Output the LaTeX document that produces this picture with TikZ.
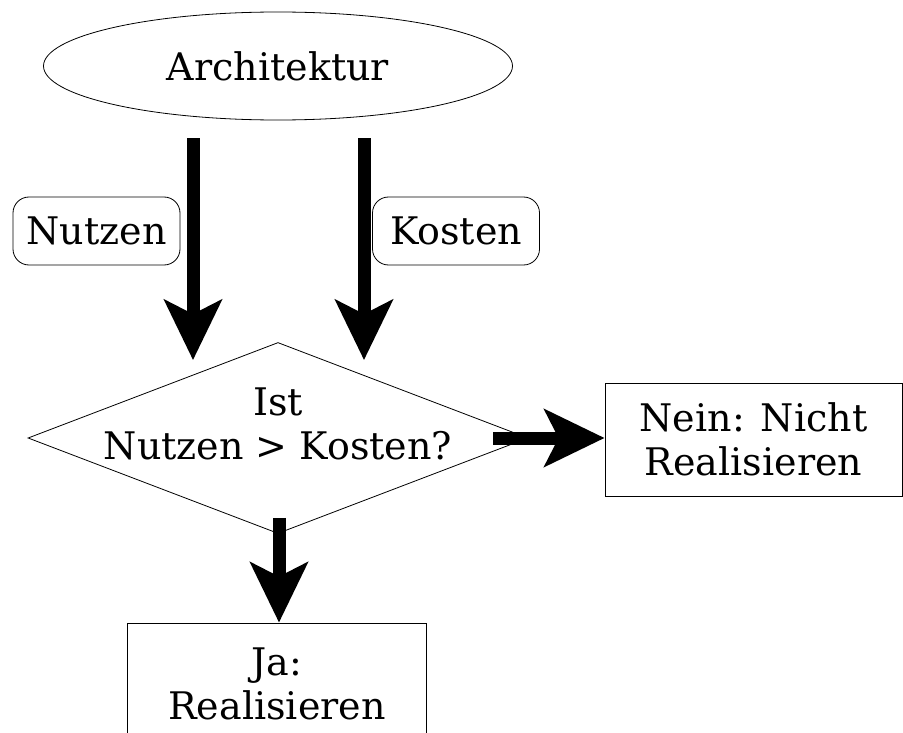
\documentclass[tikz,border=0pt]{standalone}
\usepackage{fontspec}
\setmainfont{DejaVu Serif}
\usetikzlibrary{shapes.geometric,arrows.meta}
\tikzset{
  lbl/.style={font=\fontsize{38}{44}\selectfont},
  boxlbl/.style={lbl, draw, line width=0.8pt, rounded corners=16pt, minimum width=167pt, minimum height=68pt, inner sep=0pt},
  result/.style={lbl, draw, line width=0.8pt, align=center, inner sep=0pt},
  big/.style={line width=13pt, -{Stealth[length=60pt, width=57pt, inset=14pt]}},
}
\begin{document}
\begin{tikzpicture}[x=1pt,y=-1pt]
\useasboundingbox[fill=white] (0,0) rectangle (903,733);
\begin{scope}
\clip (0,0) rectangle (903,733);
\node[lbl, draw, line width=0.8pt, ellipse, minimum width=469pt, minimum height=108pt, inner sep=0pt] (arch) at (278,66) {Architektur};
\node[boxlbl] (nutzen) at (96.5,231) {Nutzen};
\node[boxlbl] (kosten) at (456,231) {Kosten};
\node[diamond, draw, line width=0.8pt, minimum width=500pt, minimum height=191pt, inner sep=0pt] (q) at (278,438) {};
\node[lbl, align=center] (qt) at (278,424) {Ist\\Nutzen > Kosten?};
\node[result, minimum width=297pt, minimum height=113pt] (nein) at (753.5,439.5) {Nein: Nicht\\Realisieren};
\node[result, minimum width=299pt, minimum height=122pt] (ja) at (277,684) {Ja:\\Realisieren};
\draw[big] ([xshift=-85pt,yshift=-18pt]arch.south) -- ([xshift=-85pt,yshift=-18pt]q.north);
\draw[big] ([xshift=86pt,yshift=-18pt]arch.south) -- ([xshift=86pt,yshift=-18pt]q.north);
\draw[big] ([xshift=-35pt]q.east) -- (nein.west |- q.east);
\draw[big] ([xshift=1pt,yshift=16pt]q.south) -- ([xshift=2pt]ja.north);
\end{scope}
\end{tikzpicture}
\end{document}
